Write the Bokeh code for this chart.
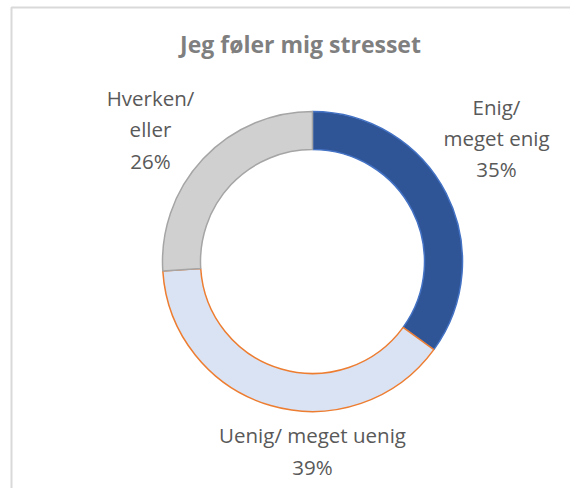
import math
from bokeh.plotting import figure
from bokeh.models import Range1d, ColumnDataSource
from bokeh.core.properties import value
from bokeh.embed import file_html
from bokeh.resources import INLINE

# ---- data ----
title = "Jeg føler mig stresset"
categories = ["Enig/ meget enig", "Uenig/ meget uenig", "Hverken/ eller"]
label_texts = ["Enig/\nmeget enig", "Uenig/ meget uenig", "Hverken/\neller"]
shares = [35, 39, 26]

# ---- styles / layout ----
fill_colors = ["#2F5597", "#DAE3F3", "#D0D0D0"]
line_colors = ["#4472C4", "#ED7D31", "#A5A5A5"]
label_x = [184, 0, -162]
label_y = [123.5, -189.5, 132]
FONT = "Open Sans"
W, H = 570, 488

total = sum(shares)
starts, ends, cum = [], [], 0.0
for s in shares:
    starts.append(math.pi / 2 - 2 * math.pi * cum / total)
    cum += s
    ends.append(math.pi / 2 - 2 * math.pi * cum / total)

src = ColumnDataSource(dict(
    x=[0] * len(shares), y=[0] * len(shares),
    start=starts, end=ends, fill=fill_colors, line=line_colors,
))

lab = ColumnDataSource(dict(
    x=label_x, y=label_y,
    text=[f"{t}\n{s}%" for t, s in zip(label_texts, shares)],
))

p = figure(width=W, height=H, output_backend="svg", toolbar_location=None,
           x_range=Range1d(-312, 258), y_range=Range1d(-227, 261),
           min_border=0, x_axis_location=None, y_axis_location=None)
p.grid.visible = False
p.outline_line_color = None
p.background_fill_color = "white"
p.border_fill_color = "white"

# chart-area border
p.quad(left=[-301], right=[320], bottom=[-300], top=[254],
       fill_color=None, line_color="#D9D9D9", line_width=2)

p.annular_wedge(x="x", y="y", inner_radius=112, outer_radius=150,
                start_angle="start", end_angle="end", direction="clock",
                fill_color="fill", line_color="line", line_width=1.5, source=src)

p.text(x="x", y="y", text="text", source=lab, text_align="center",
       text_baseline="middle", text_font=value(FONT), text_font_size="20.5px",
       text_color="#595959", text_line_height=1.12)

p.text(x=[-12], y=[217.5], text=[title], text_align="center",
       text_baseline="middle", text_font=value(FONT), text_font_size="23px",
       text_font_style="bold", text_color="#7F7F7F")

open("out.html", "w").write(file_html(p, INLINE))
